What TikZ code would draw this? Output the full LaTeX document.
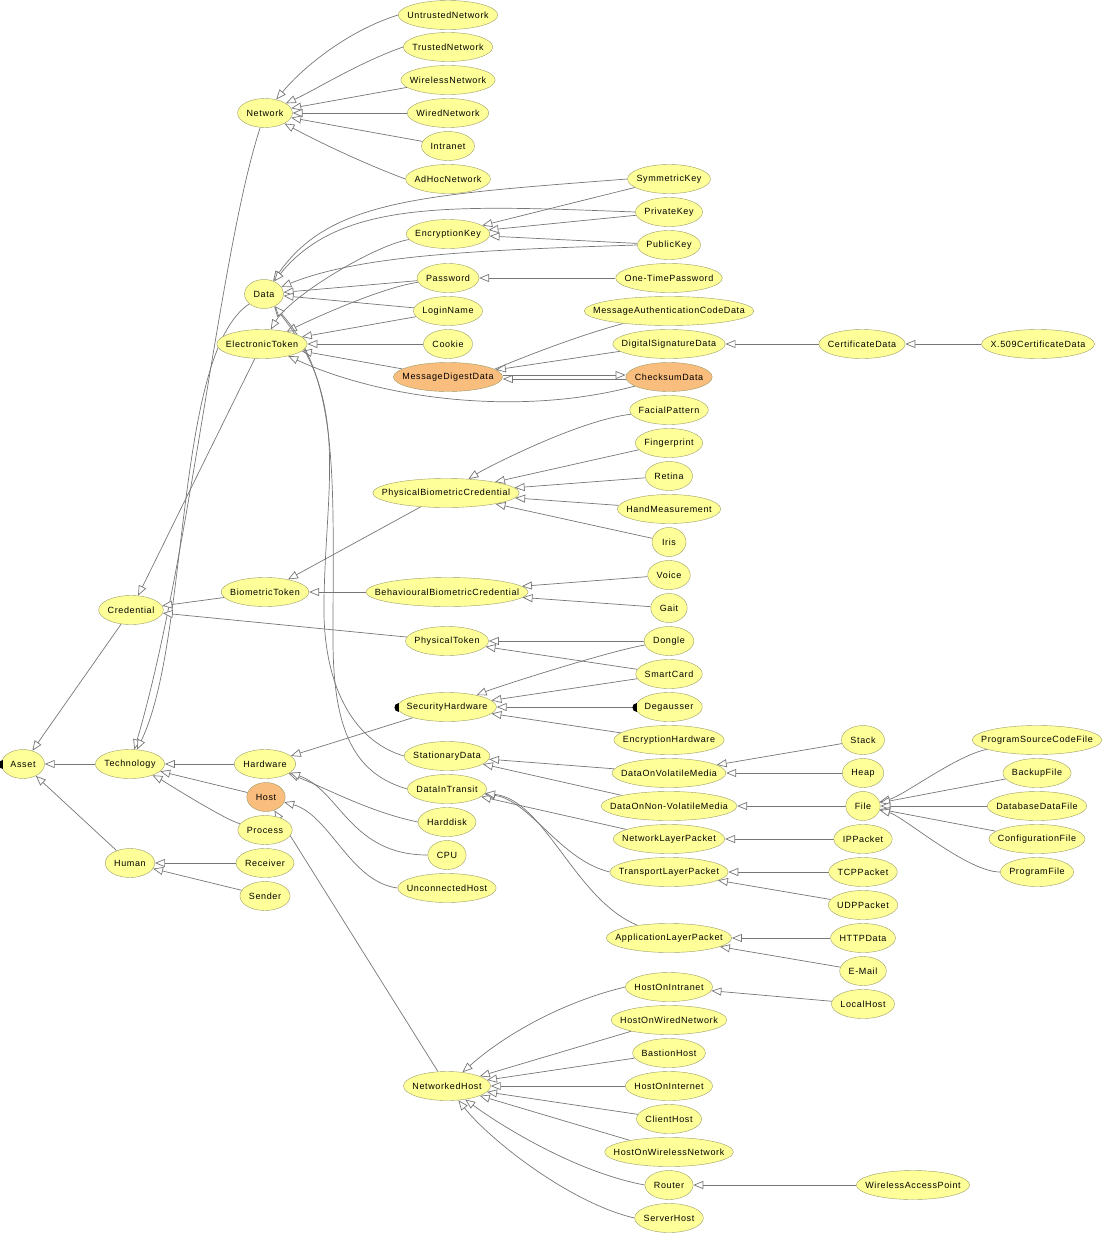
\documentclass[tikz,border=0pt]{standalone}
\usepackage{fontspec}
\newfontfamily\clsfont[LetterSpace=7]{Liberation Sans}
\usetikzlibrary{shapes.geometric,arrows.meta,backgrounds}

\definecolor{clsfill}{HTML}{FFFF99}
\definecolor{clsline}{HTML}{9C9C66}
\definecolor{clsorange}{HTML}{F9BD7D}
\definecolor{isagray}{HTML}{767676}

\newdimen\clswd

\begin{document}
\begin{tikzpicture}[x=1pt, y=-1pt]

\tikzstyle{cls}=[ellipse, draw=clsline, fill=clsfill, inner sep=0pt, minimum height=29pt,
  minimum width={max(\clswd+18pt,34pt)}, font=\clsfont\fontsize{9}{10}\selectfont,
  execute at begin node={\setbox0\hbox\bgroup},
  execute at end node={\egroup\global\clswd=\wd0 \makebox[0pt]{\box0}}]
\tikzstyle{clssel}=[cls, fill=clsorange]
\tikzstyle{isa}=[draw=isagray, line width=0.7pt, -{Triangle[fill=white, length=10pt, width=8pt]}]

\useasboundingbox (0,0) rectangle (1116,1242);

% left columns
\node (Asset) [cls] at (23,764) {Asset};
\node (Techn) [cls] at (130,764) {Technology};
\node (Human) [cls] at (130,863) {Human};
\node (Cred) [cls] at (131,610) {Credential};

\node (Network) [cls] at (265,113) {Network};
\node (Data) [cls] at (264,294) {Data};
\node (ElecToken) [cls] at (262,344) {ElectronicToken};
\node (BioToken) [cls] at (265,592) {BiometricToken};
\node (Hardware) [cls] at (265,764) {Hardware};
\node (Host) [clssel] at (266,797) {Host};
\node (Process) [cls] at (265,830) {Process};
\node (Receiver) [cls] at (265,863) {Receiver};
\node (Sender) [cls] at (265,896) {Sender};

% middle column
\node (Untrusted) [cls] at (448,15) {UntrustedNetwork};
\node (Trusted) [cls] at (448,47) {TrustedNetwork};
\node (WirelessNet) [cls] at (448,80) {WirelessNetwork};
\node (WiredNet) [cls] at (448,113) {WiredNetwork};
\node (Intranet) [cls] at (448,146) {Intranet};
\node (AdHoc) [cls] at (448,179) {AdHocNetwork};
\node (EncKey) [cls] at (448,234) {EncryptionKey};
\node (Password) [cls] at (448,278) {Password};
\node (LoginName) [cls] at (448,311) {LoginName};
\node (Cookie) [cls] at (448,344) {Cookie};
\node (MDD) [clssel] at (448,377) {MessageDigestData};
\node (PBC) [cls] at (446,493) {PhysicalBiometricCredential};
\node (BBC) [cls] at (447,592) {BehaviouralBiometricCredential};
\node (PhysToken) [cls] at (447,641) {PhysicalToken};
\node (SecHW) [cls] at (447,707) {SecurityHardware};
\node (StatData) [cls] at (447,756) {StationaryData};
\node (DIT) [cls] at (447,789) {DataInTransit};
\node (Harddisk) [cls] at (447,822) {Harddisk};
\node (CPU) [cls] at (447,855) {CPU};
\node (UnconnHost) [cls] at (447,888) {UnconnectedHost};
\node (NetHost) [cls] at (447,1086) {NetworkedHost};

% right column
\node (SymKey) [cls] at (669,179) {SymmetricKey};
\node (PrivKey) [cls] at (669,212) {PrivateKey};
\node (PubKey) [cls] at (669,245) {PublicKey};
\node (OTP) [cls] at (669,278) {One-TimePassword};
\node (MACD) [cls] at (669,311) {MessageAuthenticationCodeData};
\node (DSD) [cls] at (669,344) {DigitalSignatureData};
\node (Checksum) [clssel] at (669,377) {ChecksumData};
\node (Facial) [cls] at (669,410) {FacialPattern};
\node (Finger) [cls] at (669,443) {Fingerprint};
\node (Retina) [cls] at (669,476) {Retina};
\node (HandM) [cls] at (669,509) {HandMeasurement};
\node (Iris) [cls] at (669,542) {Iris};
\node (Voice) [cls] at (669,575) {Voice};
\node (Gait) [cls] at (669,608) {Gait};
\node (Dongle) [cls] at (669,641) {Dongle};
\node (SmartCard) [cls] at (669,674) {SmartCard};
\node (Degausser) [cls] at (669,707) {Degausser};
\node (EncHW) [cls] at (669,740) {EncryptionHardware};
\node (DOVM) [cls] at (669,773) {DataOnVolatileMedia};
\node (DONVM) [cls] at (669,806) {DataOnNon-VolatileMedia};
\node (NLP) [cls] at (669,839) {NetworkLayerPacket};
\node (TLP) [cls] at (669,872) {TransportLayerPacket};
\node (ALP) [cls] at (669,938) {ApplicationLayerPacket};
\node (HOI) [cls] at (669,987) {HostOnIntranet};
\node (HOWN) [cls] at (669,1020) {HostOnWiredNetwork};
\node (Bastion) [cls] at (669,1053) {BastionHost};
\node (HOInternet) [cls] at (669,1086) {HostOnInternet};
\node (ClientHost) [cls] at (669,1119) {ClientHost};
\node (HOWLN) [cls] at (669,1152) {HostOnWirelessNetwork};
\node (Router) [cls] at (669,1185) {Router};
\node (ServerHost) [cls] at (669,1218) {ServerHost};

% far right
\node (CertData) [cls] at (862,344) {CertificateData};
\node (XCert) [cls] at (1038,344) {X.509CertificateData};
\node (Stack) [cls] at (863,740) {Stack};
\node (Heap) [cls] at (863,773) {Heap};
\node (File) [cls] at (863,806) {File};
\node (IPPacket) [cls] at (863,839) {IPPacket};
\node (TCPPacket) [cls] at (863,872) {TCPPacket};
\node (UDPPacket) [cls] at (863,905) {UDPPacket};
\node (HTTPData) [cls] at (863,938) {HTTPData};
\node (EMail) [cls] at (863,971) {E-Mail};
\node (LocalHost) [cls] at (863,1004) {LocalHost};
\node (WAP) [cls] at (913,1185) {WirelessAccessPoint};
\node (PSCF) [cls] at (1037,740) {ProgramSourceCodeFile};
\node (BackupFile) [cls] at (1037,773) {BackupFile};
\node (DBFile) [cls] at (1037,806) {DatabaseDataFile};
\node (ConfFile) [cls] at (1037,839) {ConfigurationFile};
\node (ProgFile) [cls] at (1037,872) {ProgramFile};

% black marks
\fill (Asset.west) ++(1.5,-4.5) .. controls +(-6,0) and +(-6,0) .. ++(0,9) -- cycle;
\fill (SecHW.west) ++(1.5,-4.5) .. controls +(-6,0) and +(-6,0) .. ++(0,9) -- cycle;
\fill (Degausser.west) ++(1.5,-4.5) .. controls +(-6,0) and +(-6,0) .. ++(0,9) -- cycle;

\begin{scope}[on background layer]
% network
\draw [isa] (Untrusted.west) .. controls (350,30) and (305,65) .. (Network);
\draw [isa] (Trusted.west) .. controls (360,62) and (315,90) .. (Network);
\draw [isa] (WirelessNet) -- (Network);
\draw [isa] (WiredNet) -- (Network);
\draw [isa] (Intranet) -- (Network);
\draw [isa] (AdHoc.west) .. controls (360,162) and (315,140) .. (Network);
\draw [isa] (Network) .. controls +(-45,137) and +(60,-204) .. (Techn);

% data and tokens
\draw [isa] (Data) .. controls +(-90,60) and +(60,-124) .. (Techn);
\draw [isa] (SymKey) -- (EncKey);
\draw [isa] (SymKey.west) .. controls (420,195) and (330,200) .. (Data);
\draw [isa] (PrivKey) -- (EncKey);
\draw [isa] (PrivKey.west) .. controls (450,205) and (340,200) .. (Data);
\draw [isa] (PubKey) -- (EncKey);
\draw [isa] (PubKey.west) .. controls (480,250) and (360,255) .. (Data);
\draw [isa] (EncKey) .. controls +(-70,10) and +(30,-50) .. (ElecToken);
\draw [isa] (Password) -- (Data);
\draw [isa] (Password) .. controls +(-70,10) and +(40,-20) .. (ElecToken);
\draw [isa] (OTP) -- (Password);
\draw [isa] (LoginName) -- (Data);
\draw [isa] (LoginName) -- (ElecToken);
\draw [isa] (Cookie) -- (ElecToken);
\draw [isa] (MDD) -- (ElecToken);
\draw [isa] (Checksum) .. controls +(-150,40) and +(120,55) .. (ElecToken);
\draw [isa] (MACD) .. controls +(-110,30) and +(40,-5) .. (MDD);
\draw [isa] (DSD) -- (MDD);
\draw [isa] ([yshift=-2pt]Checksum.west) -- ([yshift=-2pt]MDD.east);
\draw [isa] ([yshift=2pt]MDD.east) -- ([yshift=2pt]Checksum.west);
\draw [isa] (CertData) -- (DSD);
\draw [isa] (XCert) -- (CertData);
\draw [isa] (StatData.west) .. controls (350,740) and (322,680) .. (324,600) .. controls (326,480) and (350,400) .. (Data);
\draw [isa] (DIT.west) .. controls (360,775) and (333,740) .. (333,640) .. controls (333,480) and (340,380) .. (Data);

% credentials
\draw [isa] (ElecToken) -- (Cred);
\draw [isa] (BioToken) -- (Cred);
\draw [isa] (PhysToken) -- (Cred);
\draw [isa] (Cred) -- (Asset);
\draw [isa] (PBC) -- (BioToken);
\draw [isa] (BBC) -- (BioToken);
\draw [isa] (Facial) .. controls +(-90,10) and +(40,-25) .. (PBC);
\draw [isa] (Finger) -- (PBC);
\draw [isa] (Retina) -- (PBC);
\draw [isa] (HandM) -- (PBC);
\draw [isa] (Iris) -- (PBC);
\draw [isa] (Voice) -- (BBC);
\draw [isa] (Gait) -- (BBC);
\draw [isa] (Dongle) -- (PhysToken);
\draw [isa] (SmartCard) -- (PhysToken);
\draw [isa] (Dongle) .. controls +(-60,10) and +(50,-20) .. (SecHW);
\draw [isa] (SmartCard) -- (SecHW);
\draw [isa] (Degausser) -- (SecHW);
\draw [isa] (EncHW) -- (SecHW);
\draw [isa] (SecHW) -- (Hardware);

% technology
\draw [isa] (Techn) -- (Asset);
\draw [isa] (Human) -- (Asset);
\draw [isa] (Hardware) -- (Techn);
\draw [isa] (Host) -- (Techn);
\draw [isa] (Process) .. controls +(-40,-10) and +(30,15) .. (Techn);
\draw [isa] (Receiver) -- (Human);
\draw [isa] (Sender) -- (Human);
\draw [isa] (Harddisk.west) .. controls (370,812) and (330,790) .. (Hardware);
\draw [isa] (CPU.west) .. controls (350,855) and (340,790) .. (Hardware);
\draw [isa] (UnconnHost.west) .. controls (350,882) and (330,815) .. (Host);
\draw [isa] (NetHost) -- (Host);

% stationary data
\draw [isa] (DOVM) -- (StatData);
\draw [isa] (DONVM) -- (StatData);
\draw [isa] (Stack) -- (DOVM);
\draw [isa] (Heap) -- (DOVM);
\draw [isa] (File) -- (DONVM);
\draw [isa] (PSCF) .. controls +(-80,15) and +(40,-10) .. (File);
\draw [isa] (BackupFile) -- (File);
\draw [isa] (DBFile) -- (File);
\draw [isa] (ConfFile) -- (File);
\draw [isa] (ProgFile) .. controls +(-70,0) and +(40,10) .. (File);

% data in transit
\draw [isa] (NLP) -- (DIT);
\draw [isa] (TLP.west) .. controls (560,860) and (530,800) .. (DIT);
\draw [isa] (ALP) .. controls (575,900) and (545,800) .. (DIT);
\draw [isa] (IPPacket) -- (NLP);
\draw [isa] (TCPPacket) -- (TLP);
\draw [isa] (UDPPacket) -- (TLP);
\draw [isa] (HTTPData) -- (ALP);
\draw [isa] (EMail) -- (ALP);

% networked hosts
\draw [isa] (HOI.west) .. controls (570,1000) and (510,1030) .. (NetHost);
\draw [isa] (HOWN) -- (NetHost);
\draw [isa] (Bastion) -- (NetHost);
\draw [isa] (HOInternet) -- (NetHost);
\draw [isa] (ClientHost) -- (NetHost);
\draw [isa] (HOWLN) -- (NetHost);
\draw [isa] (Router.west) .. controls (575,1172) and (500,1125) .. (NetHost);
\draw [isa] (ServerHost.west) .. controls (570,1203) and (490,1140) .. (NetHost);
\draw [isa] (LocalHost) -- (HOI);
\draw [isa] (WAP) -- (Router);
\end{scope}

\end{tikzpicture}
\end{document}
